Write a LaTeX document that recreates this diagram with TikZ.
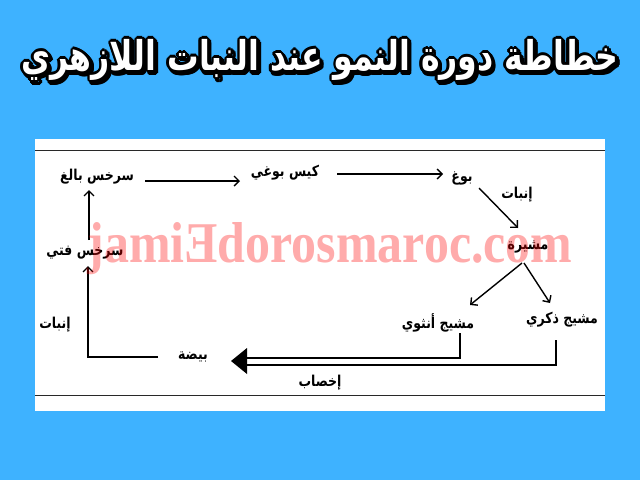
\documentclass[tikz,border=0pt]{standalone}
\usepackage{fontspec}
\usetikzlibrary{arrows.meta}
\TeXXeTstate=1
\newfontfamily\arabicfont[Script=Arabic]{DejaVu Sans}
\newfontfamily\wmfont{Liberation Serif}
\definecolor{bgblue}{RGB}{62,178,255}
\definecolor{frame}{RGB}{40,40,40}
\newcommand{\titletxt}{\scalebox{1}[1.3]{\arabicfont\bfseries\fontsize{31.5}{36}\selectfont\beginR خطاطة دورة النمو عند النبات اللازهري\endR}}
\newcommand{\lt}[1]{\scalebox{1}[1.2]{\beginR #1\endR}}
\tikzset{
  lbl/.style={inner sep=0pt, font=\arabicfont\bfseries\fontsize{12.5}{14}\selectfont},
  arr/.style={line width=1.4pt, -{Straight Barb[length=5pt,width=10pt,line width=1.4pt]}},
  fline/.style={line width=1.4pt},
  ttl/.style={inner sep=0pt},
}
\begin{document}
\begin{tikzpicture}[x=1pt,y=-1pt]
\useasboundingbox (0,0) rectangle (640,480);
\fill[bgblue] (0,0) rectangle (640,480);
\fill[white] (35,139) rectangle (605,411);
\draw[frame, line width=1pt] (35,150.5) -- (605,150.5);
\draw[frame, line width=1pt] (35,395.5) -- (605,395.5);
% title
\foreach \a in {0,30,...,330} {
  \node[ttl, text=black, shift={(\a:2.6)}, shift={(2,2.5)}] (ts\a) at (320,60) {\titletxt};
  \node[ttl, text=black, shift={(\a:2.6)}] (to\a) at (320,60) {\titletxt};
}
\node[ttl, text=white] (title) at (320,60) {\titletxt};
% labels
\node[lbl] (adult) at (97,177) {\lt{سرخس بالغ}};
\node[lbl] (sac) at (285,173) {\lt{كيس بوغي}};
\node[lbl] (spore) at (462,178) {\lt{بوغ}};
\node[lbl] (germa) at (517,195) {\lt{إنبات}};
\node[lbl] (proth) at (528,247) {\lt{مشيرة}};
\node[lbl] (fem) at (438,323) {\lt{مشيج أنثوي}};
\node[lbl] (male) at (562,320) {\lt{مشيج ذكري}};
\node[lbl] (egg) at (193,357) {\lt{بيضة}};
\node[lbl] (fert) at (320,383) {\lt{إخصاب}};
\node[lbl] (young) at (85,253) {\lt{سرخس فتي}};
\node[lbl] (germb) at (55,325) {\lt{إنبات}};
% connectors
\draw[arr] ([shift={(48,4)}]adult.center) -- ([shift={(-45,8)}]sac.center);
\draw[arr] ([shift={(52,1)}]sac.center) -- ([shift={(-19,-4)}]spore.center);
\draw[arr] ([shift={(17,10)}]spore.center) -- ([shift={(-10,-19)}]proth.center);
\draw[arr] ([shift={(-6,16)}]proth.center) -- ([shift={(32,-18)}]fem.center);
\draw[arr] ([shift={(-4,16)}]proth.center) -- ([shift={(-12,-17)}]male.center);
\draw[fline] ([shift={(22,10)}]fem.center) |- ([shift={(54,1)}]egg.center);
\draw[fline] ([shift={(-6,20)}]male.center) |- ([shift={(54,8)}]egg.center);
\fill ([shift={(38,4)}]egg.center) -- ([shift={(54,-9)}]egg.center) -- ([shift={(54,17)}]egg.center) -- cycle;
\draw[arr] ([shift={(-35,0)}]egg.center) -| ([shift={(3,13)}]young.center);
\draw[arr] ([shift={(4,-13)}]young.center) -- ([shift={(-8,13)}]adult.center);
% watermark
\node[inner sep=0pt, anchor=base, text=red, text opacity=0.33, font=\wmfont\bfseries\fontsize{74}{80}\selectfont] (wm) at (330,262) {\resizebox{485pt}{40pt}{jamiƎdorosmaroc.com}};
\end{tikzpicture}
\end{document}
